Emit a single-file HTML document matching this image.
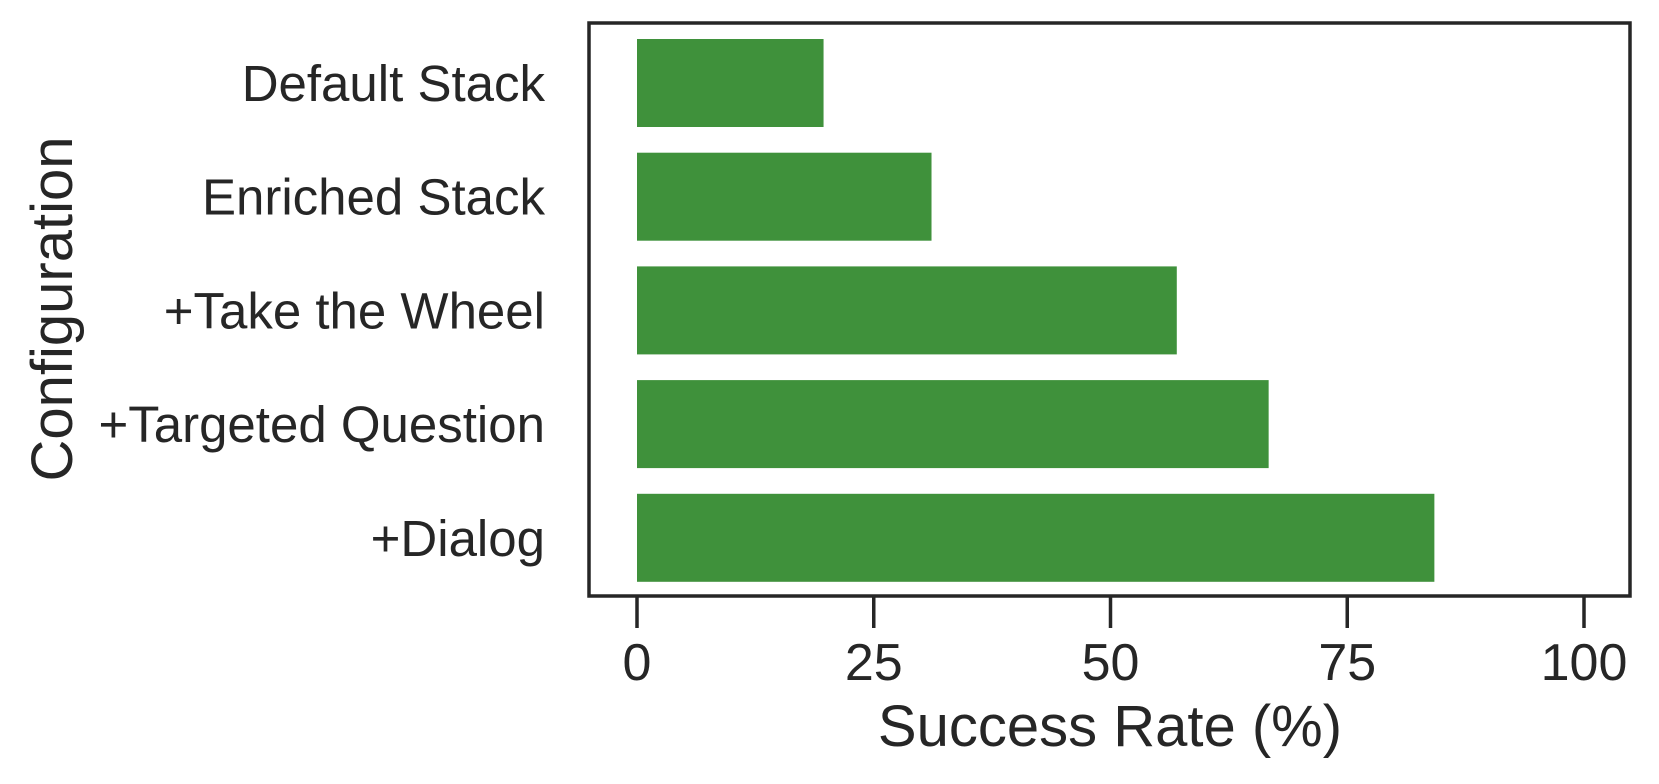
<!DOCTYPE html>
<html><head><meta charset="utf-8"><style>
html,body{margin:0;padding:0;background:#fff;}
svg{display:block;font-family:"Liberation Sans",Arial,sans-serif;}
</style></head><body>
<svg id="chart" width="1659" height="784" viewBox="0 0 1659 784" xmlns="http://www.w3.org/2000/svg">
<rect width="1659" height="784" fill="#fff"/>
<g id="bars"></g>
<g id="xticks"></g>
<g id="ylabels"></g>
<rect x="589" y="23" width="1041" height="573" fill="none" stroke="#262626" stroke-width="3.5"/>
<text x="1110" y="746" font-size="58" fill="#262626" text-anchor="middle">Success Rate (%)</text>
<text transform="translate(72,309) rotate(-90)" font-size="58" fill="#262626" text-anchor="middle">Configuration</text>
</svg>
<script>
const categories = ["Default Stack","Enriched Stack","+Take the Wheel","+Targeted Question","+Dialog"];
const values = [19.7, 31.1, 57.0, 66.7, 84.2];
const xTicks = [0, 25, 50, 75, 100];
const xTickLabels = ["0","25","50","75","100"];

const NS = "http://www.w3.org/2000/svg";
const x = v => 637 + (v / 100) * (1584 - 637);
const band = 113.7;
const yc = i => 83 + i * band;
const barH = 88;

const bars = document.getElementById("bars");
categories.forEach((c, i) => {
  const r = document.createElementNS(NS, "rect");
  
  
  r.setAttribute("x", x(0));
  r.setAttribute("y", yc(i) - barH / 2);
  r.setAttribute("width", x(values[i]) - x(0));
  r.setAttribute("height", barH);
  r.setAttribute("fill", "#3f913b");
  bars.appendChild(r);
});

const yl = document.getElementById("ylabels");
categories.forEach((c, i) => {
  const t = document.createElementNS(NS, "text");
  
  
  t.setAttribute("x", 545);
  t.setAttribute("y", yc(i) + 18);
  t.setAttribute("font-size", "51");
  t.setAttribute("fill", "#262626");
  t.setAttribute("text-anchor", "end");
  t.textContent = c;
  yl.appendChild(t);
});

const xt = document.getElementById("xticks");
xTicks.forEach((v, i) => {
  const l = document.createElementNS(NS, "line");
  
  
  l.setAttribute("x1", x(v)); l.setAttribute("x2", x(v));
  l.setAttribute("y1", 596); l.setAttribute("y2", 628);
  l.setAttribute("stroke", "#262626"); l.setAttribute("stroke-width", "3.5");
  xt.appendChild(l);
  const t = document.createElementNS(NS, "text");
  
  
  t.setAttribute("x", x(v));
  t.setAttribute("y", 680);
  t.setAttribute("font-size", "52");
  t.setAttribute("fill", "#262626");
  t.setAttribute("text-anchor", "middle");
  t.textContent = xTickLabels[i];
  xt.appendChild(t);
});
</script>
</body></html>
